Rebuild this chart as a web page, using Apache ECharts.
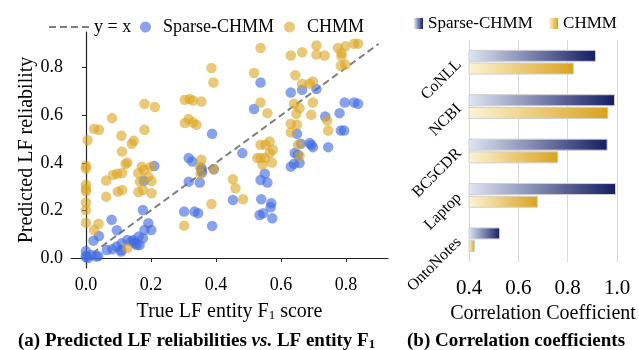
<!DOCTYPE html>
<html>
<head>
<meta charset="utf-8">
<script src="https://cdn.jsdelivr.net/npm/echarts@6/dist/echarts.min.js"></script>
<style>
  html, body { margin: 0; padding: 0; background: #fff; }
  #chart { width: 639px; height: 350px; }
</style>
</head>
<body>
<div id="chart"></div>
<script>
// 左图：真实 F1 vs 预测可靠度
const sparsePoints = [
  [0.21,0.387],[0.178,0.325],[0.175,0.202],[0.079,0.161],[0.095,0.117],[0.04,0.092],[0.023,0.073],
  [0.192,0.146],[0.201,0.118],[0.18,0.118],[0.162,0.09],[0.175,0.083],[0.15,0.062],[0.165,0.055],
  [0.146,0.076],[0.127,0.076],[0.11,0.062],[0.094,0.048],[0.081,0.037],[0.064,0.034],[0.108,0.027],
  [0.109,0.034],[0.038,0.008],[0,0.029],[0,0.003],[0.007,0],[0.017,0.013],[0,0.01],[0.032,0.006],
  [0.14,0.07],[0.156,0.055],
  [0.388,0.522],[0.316,0.42],[0.327,0.406],[0.355,0.378],[0.357,0.359],[0.316,0.321],[0.35,0.317],
  [0.302,0.195],[0.334,0.195],[0.345,0.188],[0.388,0.135],[0.393,0.373],[0.356,0.37],
  [0.537,0.738],[0.517,0.626],[0.63,0.696],[0.665,0.707],[0.649,0.522],[0.661,0.48],[0.688,0.483],
  [0.642,0.441],[0.652,0.434],[0.657,0.399],[0.64,0.396],[0.63,0.384],[0.481,0.441],[0.55,0.354],
  [0.537,0.328],[0.558,0.317],[0.452,0.244],[0.539,0.247],[0.57,0.23],[0.568,0.213],[0.534,0.181],
  [0.545,0.188],[0.573,0.167],
  [0.709,0.71],[0.796,0.654],[0.825,0.654],[0.837,0.648],[0.736,0.595],[0.78,0.609],[0.784,0.536],
  [0.794,0.536],[0.693,0.476],[0.698,0.466],[0.745,0.466]
]
const chmmPoints = [
  [0.18,0.648],[0.212,0.635],[0.08,0.588],[0.025,0.543],[0.04,0.539],[0.005,0.495],[0.109,0.514],
  [0.147,0.493],[0.141,0.48],[0.18,0.539],[0.111,0.448],[0.127,0.401],[0.122,0.395],[0,0.388],
  [0,0.376],[0.083,0.349],[0.096,0.354],[0.111,0.357],[0.062,0.326],[0,0.308],[0,0.29],[0,0.28],
  [0.098,0.279],[0.111,0.286],[0.062,0.258],[0,0.233],[0,0.202],[0,0.148],[0.039,0.144],[0.025,0.118],
  [0.127,0.041],
  [0.161,0.357],[0.178,0.37],[0.192,0.342],[0.166,0.321],[0.202,0.324],[0.176,0.286],[0.161,0.277],
  [0.202,0.272],[0.172,0.384],[0.199,0.384],
  [0.386,0.799],[0.392,0.738],[0.304,0.665],[0.319,0.668],[0.329,0.662],[0.355,0.658],[0.304,0.567],
  [0.316,0.584],[0.329,0.57],[0.34,0.56],[0.355,0.413],[0.35,0.384],[0.352,0.354],[0.386,0.227],
  [0.302,0.136],[0.393,0.373],
  [0.537,0.883],[0.63,0.851],[0.665,0.865],[0.517,0.778],[0.644,0.768],[0.665,0.733],[0.688,0.733],
  [0.537,0.654],[0.558,0.609],[0.64,0.648],[0.657,0.63],[0.647,0.606],[0.693,0.602],[0.63,0.564],
  [0.649,0.56],[0.63,0.528],[0.652,0.476],[0.657,0.43],[0.537,0.476],[0.552,0.476],[0.565,0.49],
  [0.575,0.455],[0.565,0.441],[0.537,0.42],[0.55,0.42],[0.572,0.401],[0.543,0.392],[0.527,0.42],
  [0.452,0.331],[0.46,0.293],[0.483,0.247],
  [0.709,0.893],[0.709,0.855],[0.734,0.851],[0.775,0.883],[0.798,0.89],[0.786,0.862],[0.786,0.848],
  [0.825,0.901],[0.837,0.901],[0.784,0.808],[0.798,0.813],[0.698,0.742],[0.698,0.654],[0.742,0.578],
  [0.745,0.536]
]
const diagEnds = [0.02, 0.9]   // y = x 虚线两端
const scatterTicks = [0, 0.2, 0.4, 0.6, 0.8]

// 右图：相关系数
const datasets = ['CoNLL', 'NCBI', 'BC5CDR', 'Laptop', 'OntoNotes']
const sparseCorr = [0.915, 0.992, 0.962, 0.996, 0.526]
const chmmCorr = [0.825, 0.965, 0.762, 0.679, 0.424]

const serif = 'Liberation Serif'
const grad = (c0, c1) => new echarts.graphic.LinearGradient(0, 0, 1, 0, [
  { offset: 0, color: c0 }, { offset: 1, color: c1 }
])

let chart = echarts.init(document.getElementById('chart'))
chart.setOption({
  backgroundColor: '#fff',
  animation: false,
  textStyle: { fontFamily: serif, color: '#000' },
  title: [
    {
      text: '(a) Predicted LF reliabilities {it|vs.} LF entity F{sub|1}',
      left: 13, top: 327,
      textStyle: {
        fontFamily: serif, fontSize: 19, fontWeight: 'bold', color: '#000',
        rich: {
          it: { fontFamily: serif, fontSize: 19, fontWeight: 'bold', fontStyle: 'italic' },
          sub: { fontFamily: serif, fontSize: 13, fontWeight: 'bold', verticalAlign: 'bottom', padding: [6, 0, 0, 0] }
        }
      }
    },
    {
      text: '(b) Correlation coefficients',
      left: 402, top: 327,
      textStyle: { fontFamily: serif, fontSize: 19, fontWeight: 'bold', color: '#000' }
    }
  ],
  legend: [
    {
      data: ['y = x'],
      left: 43, top: 13,
      itemWidth: 40, itemHeight: 14,
      itemStyle: { color: 'rgba(0,0,0,0)', borderWidth: 0, opacity: 0 },
      textStyle: { fontFamily: serif, fontSize: 18, color: '#000' }
    },
    {
      data: ['Sparse-CHMM', 'CHMM'],
      left: 135, top: 13,
      itemWidth: 25, itemHeight: 11, itemGap: 10,
      textStyle: { fontFamily: serif, fontSize: 18, color: '#000' }
    },
    {
      data: ['Sparse-CHMM ', 'CHMM '],
      orient: 'horizontal',
      left: 414, top: 15, width: 225, padding: 0,
      icon: 'rect',
      itemWidth: 9, itemHeight: 11, itemGap: 12,
      itemStyle: { borderWidth: 0 },
      textStyle: { fontFamily: serif, fontSize: 17, color: '#000' }
    }
  ],
  grid: [
    { left: 71, top: 32, width: 317, height: 236 },
    { left: 469, top: 40, width: 148, height: 222 }
  ],
  xAxis: [
    {
      type: 'value', gridIndex: 0, min: -0.046, max: 0.929,
      name: 'True LF entity F{sub|1} score', nameLocation: 'middle', nameGap: 33,
      nameTextStyle: {
        fontFamily: serif, fontSize: 20, color: '#000',
        rich: { sub: { fontFamily: serif, fontSize: 13, verticalAlign: 'bottom', padding: [8, 0, 0, 0] } }
      },
      axisLine: { lineStyle: { color: '#222', width: 1.2 } },
      axisTick: { show: true, length: 4, lineStyle: { color: '#222' }, customValues: scatterTicks },
      axisLabel: { fontSize: 18, color: '#000', margin: 8, customValues: scatterTicks, formatter: v => v.toFixed(1) },
      splitLine: { show: false }
    },
    {
      type: 'value', gridIndex: 1, min: 0.4, max: 1.0, interval: 0.2,
      name: 'Correlation Coefficient', nameLocation: 'middle', nameGap: 40,
      nameTextStyle: { fontFamily: serif, fontSize: 20, color: '#000' },
      axisLine: { show: false },
      axisTick: { show: false },
      axisLabel: { fontSize: 21, color: '#000', margin: 16, formatter: v => v.toFixed(1) },
      splitLine: { show: true, lineStyle: { color: '#d9d9d9', width: 1 } }
    }
  ],
  yAxis: [
    {
      type: 'value', gridIndex: 0, min: -0.042, max: 0.95,
      name: 'Predicted LF reliability', nameLocation: 'middle', nameGap: 34,
      nameTextStyle: { fontFamily: serif, fontSize: 20, color: '#000' },
      axisLine: { show: true, lineStyle: { color: '#222', width: 1.2 } },
      axisTick: { show: true, length: 4, lineStyle: { color: '#222' }, customValues: scatterTicks },
      axisLabel: { fontSize: 18, color: '#000', margin: 8, customValues: scatterTicks, formatter: v => v.toFixed(1) },
      splitLine: { show: false }
    },
    {
      type: 'category', gridIndex: 1, data: datasets, inverse: true,
      axisLine: { show: false },
      axisTick: { show: false },
      axisLabel: { fontSize: 16, color: '#000', rotate: 45, margin: 10 },
      splitLine: { show: false }
    }
  ],
  series: [
    {
      name: 'y = x', type: 'line', xAxisIndex: 0, yAxisIndex: 0,
      data: diagEnds.map(v => [v, v]),
      symbol: 'none', silent: true, z: 1,
      lineStyle: { color: '#7f7f7f', width: 2, type: [7, 4] },
      itemStyle: { color: '#7f7f7f' }
    },
    {
      name: 'Sparse-CHMM', type: 'scatter', xAxisIndex: 0, yAxisIndex: 0,
      data: sparsePoints, symbolSize: 10.5, z: 2,
      itemStyle: { color: '#4169e1', opacity: 0.62 }
    },
    {
      name: 'CHMM', type: 'scatter', xAxisIndex: 0, yAxisIndex: 0,
      data: chmmPoints, symbolSize: 10.5, z: 3,
      itemStyle: { color: '#daa520', opacity: 0.6 }
    },
    {
      name: 'Sparse-CHMM ', type: 'bar', xAxisIndex: 1, yAxisIndex: 1,
      data: sparseCorr, barWidth: 12, barGap: '6%',
      itemStyle: { color: grad('#dfe6f4', '#141d63'), borderColor: '#cfcfcf', borderWidth: 1 }
    },
    {
      name: 'CHMM ', type: 'bar', xAxisIndex: 1, yAxisIndex: 1,
      data: chmmCorr, barWidth: 12, barGap: '6%',
      itemStyle: { color: grad('#fdf4d6', '#d9a21c'), borderColor: '#cfcfcf', borderWidth: 1 }
    }
  ]
})
</script>
</body>
</html>
